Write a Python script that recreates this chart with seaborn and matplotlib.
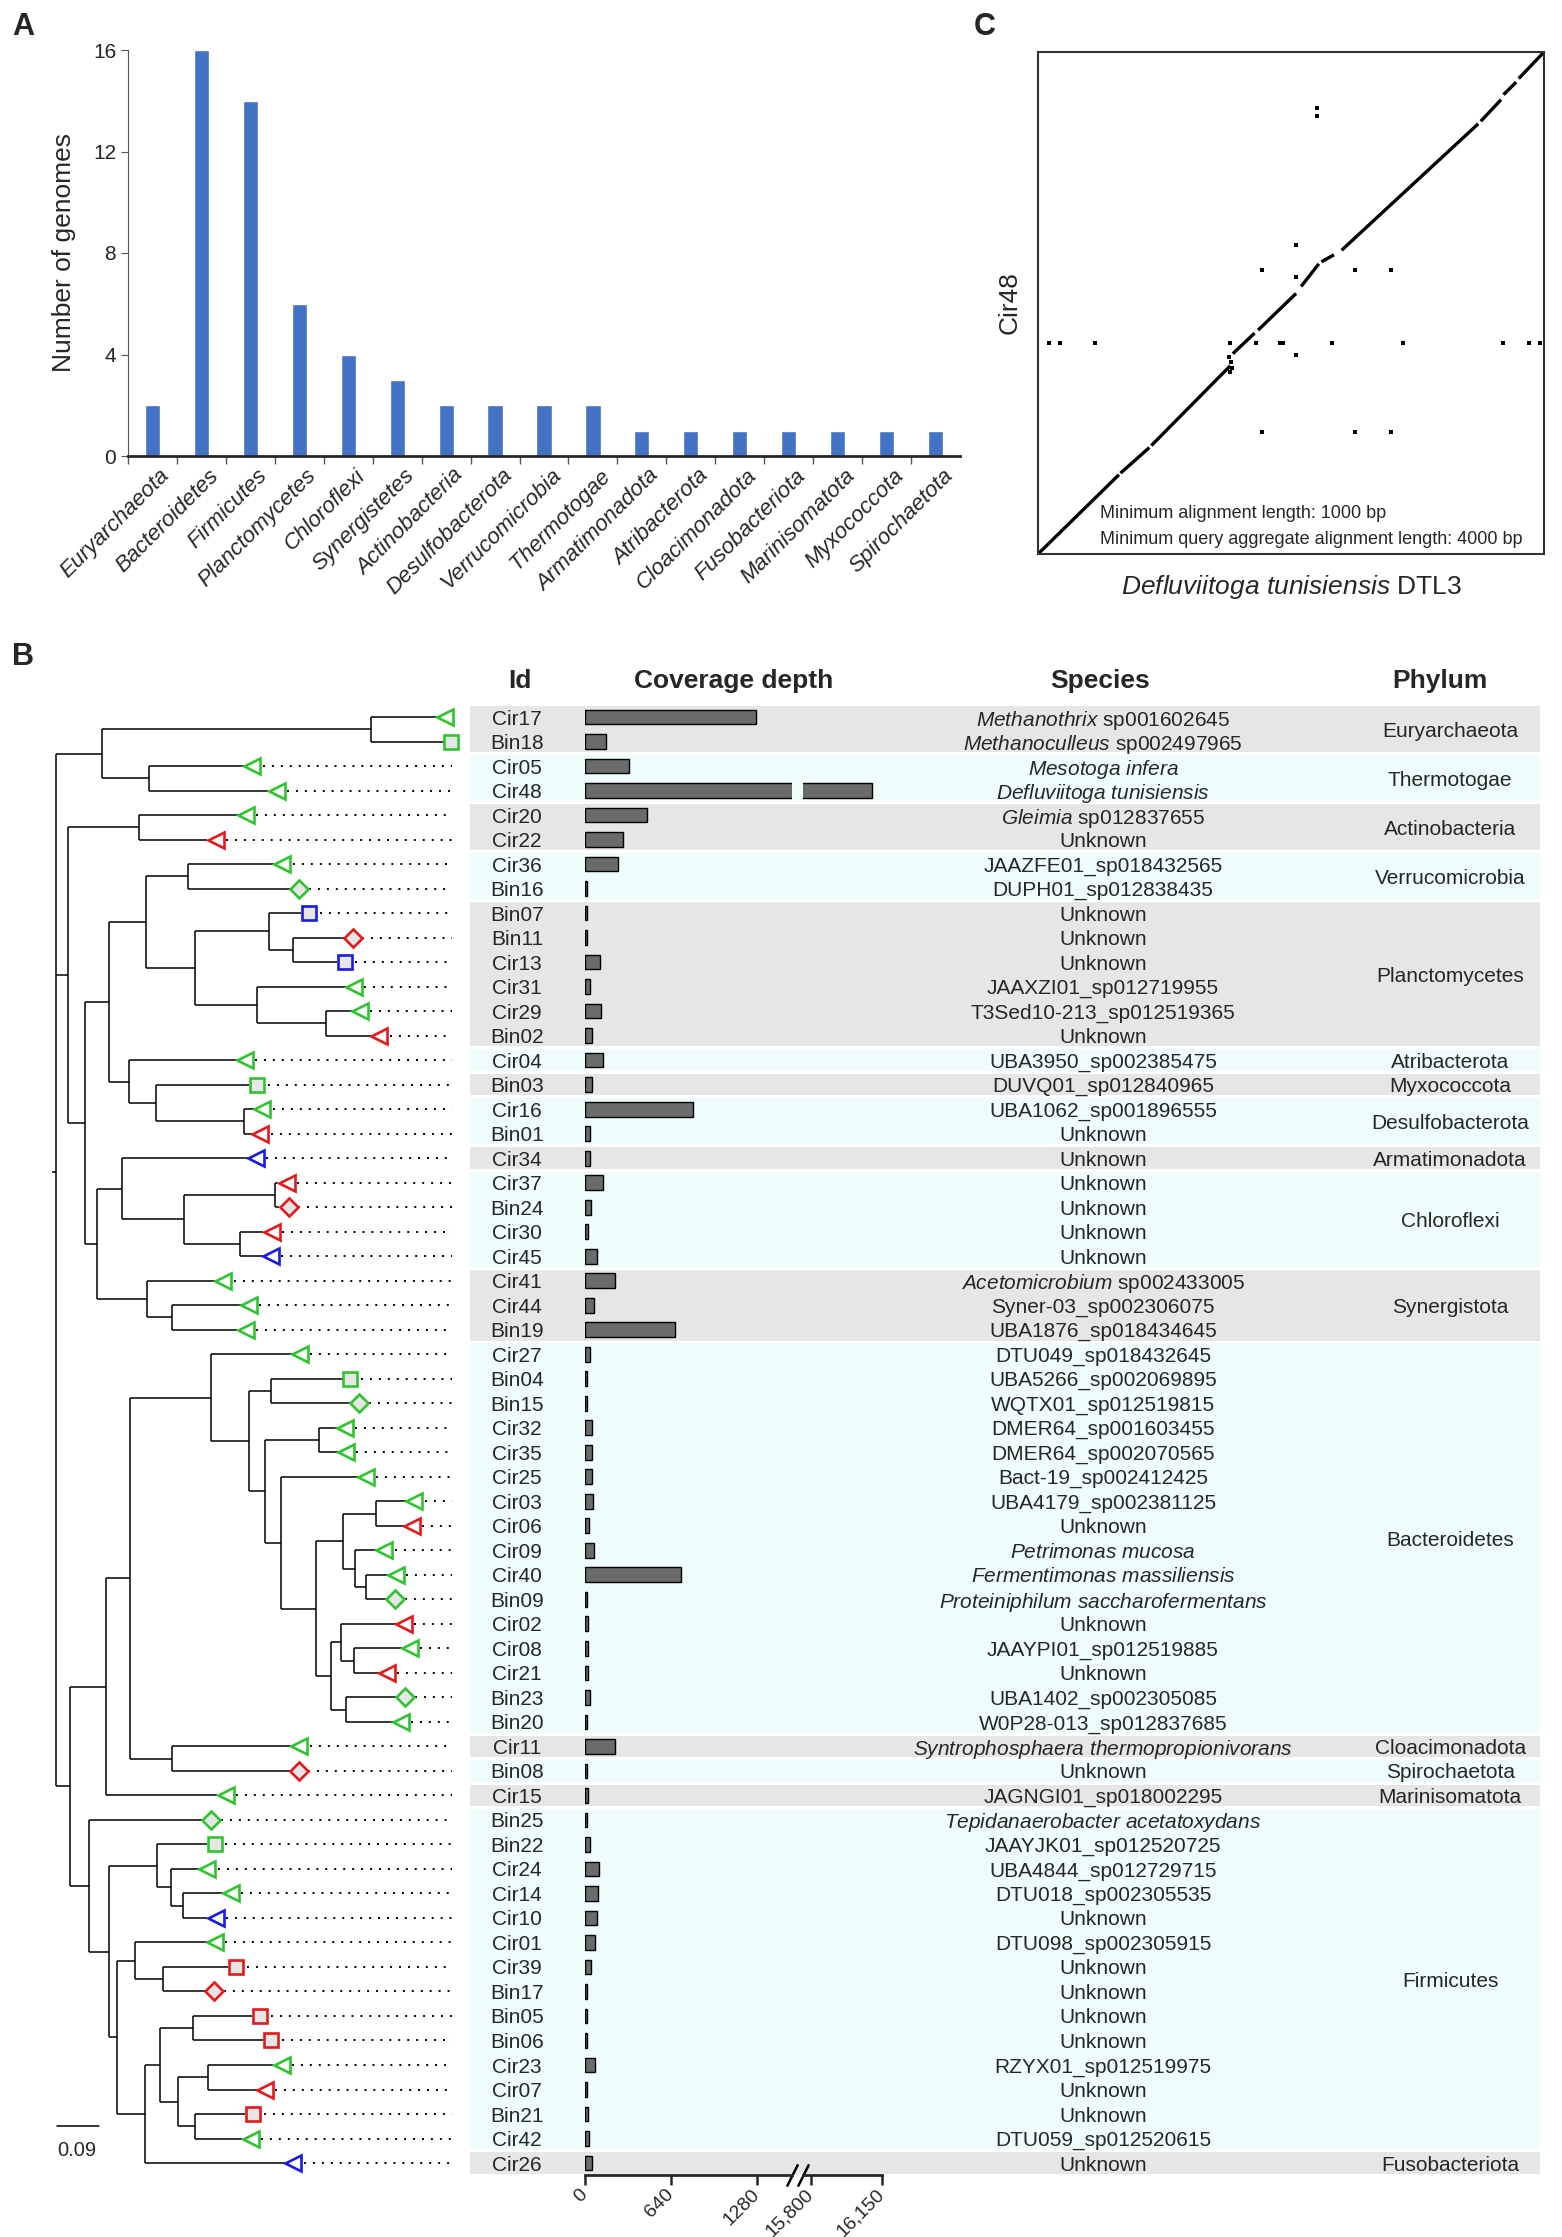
import numpy as np
import pandas as pd
import matplotlib
matplotlib.use("Agg")
import matplotlib.pyplot as plt
import seaborn as sns
from matplotlib.collections import LineCollection
from matplotlib.transforms import offset_copy, ScaledTranslation

sns.set_style("ticks")
plt.rcParams['font.family'] = ['Liberation Sans', 'DejaVu Sans']
plt.rcParams['mathtext.fontset'] = 'custom'
plt.rcParams['mathtext.rm'] = 'Liberation Sans'
plt.rcParams['mathtext.it'] = 'Liberation Sans:italic'

# ---------------- data ----------------
# panel A
phyla_a = ['Euryarchaeota', 'Bacteroidetes', 'Firmicutes', 'Planctomycetes', 'Chloroflexi',
           'Synergistetes', 'Actinobacteria', 'Desulfobacterota', 'Verrucomicrobia', 'Thermotogae',
           'Armatimonadota', 'Atribacterota', 'Cloacimonadota', 'Fusobacteriota', 'Marinisomatota',
           'Myxococcota', 'Spirochaetota']
genome_counts = [2, 16, 14, 6, 4, 3, 2, 2, 2, 2, 1, 1, 1, 1, 1, 1, 1]

# panel B
tree_newick = """(((Cir17:0.1418,Bin18:0.1562):0.5818,(Cir05:0.2052,Cir48:0.2577):0.1023):0.0986,
((Cir20:0.2124,Cir22:0.1469):0.1548,
((((Cir36:0.1865,Bin16:0.221):0.0893,((Bin07:0.0684,(Bin11:0.1087,Cir13:0.0943):0.0511):0.1606,
(Cir31:0.1916,(Cir29:0.0554,Bin02:0.0972):0.1498):0.1332):0.1051):0.0813,
(Cir04:0.2332,(Bin03:0.2009,(Cir16:0.0209,Bin01:0.0166):0.1901):0.0597):0.0432):0.0512,
((Cir34:0.2707,((Cir37:0.0072,Bin24:0.0094):0.1958,(Cir30:0.0504,Cir45:0.049):0.1202):0.1339):0.0555,
(Cir41:0.1476,(Cir44:0.1476,Bin19:0.1404):0.0555):0.108):0.0252):0.0374):0.0252,
((((Cir27:0.1749,((Bin04:0.1548,Bin15:0.1713):0.0461,((Cir32:0.0388,Cir35:0.0403):0.116,
(Cir25:0.1649,(((Cir03:0.0662,Cir06:0.0604):0.0706,(Cir09:0.0461,(Cir40:0.0468,Bin09:0.0432):0.0245):0.0259):0.0583,
((Cir02:0.1188,(Cir08:0.1036,Cir21:0.0532):0.0281):0.0209,(Bin23:0.1087,Bin20:0.1015):0.0317):0.0331):0.0749):0.0346):0.0338):0.0835):0.1743,
(Cir11:0.2578,Bin08:0.2542):0.09):0.0518,Cir15:0.2405):0.0778,
(Bin25:0.2434,((Bin22:0.1065,(Cir24:0.0612,(Cir14:0.0857,Cir10:0.0526):0.0259):0.0295):0.1051,
((Cir01:0.1555,(Cir39:0.1404,Bin17:0.0907):0.0612):0.0374,
(((Bin05:0.1289,Bin06:0.1526):0.0713,((Cir23:0.1404,Cir07:0.1044):0.0648,(Bin21:0.108,Cir42:0.1015):0.0368):0.0403):0.0324,
Cir26:0.3031):0.059):0.0187):0.0418):0.0418):0.0302);"""

genome_ids = ['Cir17', 'Bin18', 'Cir05', 'Cir48', 'Cir20', 'Cir22', 'Cir36', 'Bin16', 'Bin07', 'Bin11',
              'Cir13', 'Cir31', 'Cir29', 'Bin02', 'Cir04', 'Bin03', 'Cir16', 'Bin01', 'Cir34', 'Cir37',
              'Bin24', 'Cir30', 'Cir45', 'Cir41', 'Cir44', 'Bin19', 'Cir27', 'Bin04', 'Bin15', 'Cir32',
              'Cir35', 'Cir25', 'Cir03', 'Cir06', 'Cir09', 'Cir40', 'Bin09', 'Cir02', 'Cir08', 'Cir21',
              'Bin23', 'Bin20', 'Cir11', 'Bin08', 'Cir15', 'Bin25', 'Bin22', 'Cir24', 'Cir14', 'Cir10',
              'Cir01', 'Cir39', 'Bin17', 'Bin05', 'Bin06', 'Cir23', 'Cir07', 'Bin21', 'Cir42', 'Cir26']

coverage_depth = [1270, 156, 327, 16100, 460, 282, 246, 15, 15, 15,
                  115, 37, 120, 52, 131, 52, 800, 37, 37, 131,
                  45, 26, 88, 225, 68, 669, 37, 15, 12, 52,
                  52, 52, 63, 30, 68, 716, 15, 20, 20, 20,
                  37, 15, 225, 12, 20, 15, 37, 105, 94, 88,
                  78, 42, 12, 12, 12, 73, 15, 20, 30, 52]

tip_shape = ['tri', 'sq', 'tri', 'tri', 'tri', 'tri', 'tri', 'dia', 'sq', 'dia',
             'sq', 'tri', 'tri', 'tri', 'tri', 'sq', 'tri', 'tri', 'tri', 'tri',
             'dia', 'tri', 'tri', 'tri', 'tri', 'tri', 'tri', 'sq', 'dia', 'tri',
             'tri', 'tri', 'tri', 'tri', 'tri', 'tri', 'dia', 'tri', 'tri', 'tri',
             'dia', 'tri', 'tri', 'dia', 'tri', 'dia', 'sq', 'tri', 'tri', 'tri',
             'tri', 'sq', 'dia', 'sq', 'sq', 'tri', 'tri', 'sq', 'tri', 'tri']

tip_quality = ['g', 'g', 'g', 'g', 'g', 'r', 'g', 'g', 'b', 'r',
               'b', 'g', 'g', 'r', 'g', 'g', 'g', 'r', 'b', 'r',
               'r', 'r', 'b', 'g', 'g', 'g', 'g', 'g', 'g', 'g',
               'g', 'g', 'g', 'r', 'g', 'g', 'g', 'r', 'g', 'r',
               'g', 'g', 'g', 'r', 'g', 'g', 'g', 'g', 'g', 'b',
               'g', 'r', 'r', 'r', 'r', 'g', 'r', 'r', 'g', 'b']

species = [r'$\mathit{Methanothrix}$ sp001602645', r'$\mathit{Methanoculleus}$ sp002497965',
           r'$\mathit{Mesotoga\ infera}$', r'$\mathit{Defluviitoga\ tunisiensis}$',
           r'$\mathit{Gleimia}$ sp012837655', 'Unknown',
           'JAAZFE01_sp018432565', 'DUPH01_sp012838435', 'Unknown', 'Unknown', 'Unknown',
           'JAAXZI01_sp012719955', 'T3Sed10-213_sp012519365', 'Unknown',
           'UBA3950_sp002385475', 'DUVQ01_sp012840965', 'UBA1062_sp001896555', 'Unknown',
           'Unknown', 'Unknown', 'Unknown', 'Unknown', 'Unknown',
           r'$\mathit{Acetomicrobium}$ sp002433005', 'Syner-03_sp002306075', 'UBA1876_sp018434645',
           'DTU049_sp018432645', 'UBA5266_sp002069895', 'WQTX01_sp012519815', 'DMER64_sp001603455',
           'DMER64_sp002070565', 'Bact-19_sp002412425', 'UBA4179_sp002381125', 'Unknown',
           r'$\mathit{Petrimonas\ mucosa}$', r'$\mathit{Fermentimonas\ massiliensis}$',
           r'$\mathit{Proteiniphilum\ saccharofermentans}$', 'Unknown', 'JAAYPI01_sp012519885',
           'Unknown', 'UBA1402_sp002305085', 'W0P28-013_sp012837685',
           r'$\mathit{Syntrophosphaera\ thermopropionivorans}$', 'Unknown', 'JAGNGI01_sp018002295',
           r'$\mathit{Tepidanaerobacter\ acetatoxydans}$', 'JAAYJK01_sp012520725',
           'UBA4844_sp012729715', 'DTU018_sp002305535', 'Unknown', 'DTU098_sp002305915',
           'Unknown', 'Unknown', 'Unknown', 'Unknown', 'RZYX01_sp012519975', 'Unknown', 'Unknown',
           'DTU059_sp012520615', 'Unknown']

phylum_groups = ['Euryarchaeota', 'Thermotogae', 'Actinobacteria', 'Verrucomicrobia', 'Planctomycetes',
                 'Atribacterota', 'Myxococcota', 'Desulfobacterota', 'Armatimonadota', 'Chloroflexi',
                 'Synergistota', 'Bacteroidetes', 'Cloacimonadota', 'Spirochaetota', 'Marinisomatota',
                 'Firmicutes', 'Fusobacteriota']
phylum_sizes = [2, 2, 2, 2, 6, 1, 1, 2, 1, 4, 3, 16, 1, 1, 1, 14, 1]

# panel C (fractions of the genome length)
seg_ref_start = [0.0, 0.163, 0.224, 0.385, 0.435, 0.52, 0.56, 0.60, 0.875, 0.92, 0.95]
seg_ref_end = [0.16, 0.22, 0.38, 0.428, 0.51, 0.555, 0.585, 0.87, 0.915, 0.945, 1.0]
seg_qry_start = [0.0, 0.161, 0.216, 0.399, 0.446, 0.533, 0.582, 0.605, 0.862, 0.915, 0.947]
seg_qry_end = [0.158, 0.212, 0.375, 0.44, 0.519, 0.578, 0.596, 0.857, 0.905, 0.94, 1.0]

dot_ref = [0.552, 0.552, 0.510, 0.443, 0.627, 0.698, 0.510,
           0.021, 0.043, 0.112, 0.380, 0.430, 0.478, 0.484, 0.581, 0.721, 0.918, 0.970, 0.992,
           0.510, 0.443, 0.627, 0.698, 0.377, 0.381, 0.384, 0.379]
dot_qry = [0.888, 0.872, 0.615, 0.566, 0.566, 0.566, 0.552,
           0.421, 0.421, 0.421, 0.421, 0.421, 0.421, 0.421, 0.421, 0.421, 0.421, 0.421, 0.421,
           0.397, 0.244, 0.244, 0.244, 0.392, 0.382, 0.371, 0.363]

# ---------------- helpers ----------------
W, H = 1562, 2237
fig = plt.figure(figsize=(W / 100, H / 100), dpi=100)


def add_px_axes(left, top, right, bottom):
    return fig.add_axes([left / W, 1 - bottom / H, (right - left) / W, (bottom - top) / H])


def parse_newick(text):
    s = "".join(text.split())
    pos = 0

    def node():
        nonlocal pos
        kids = []
        if s[pos] == '(':
            pos += 1
            while True:
                kids.append(node())
                if s[pos] == ',':
                    pos += 1
                    continue
                pos += 1
                break
        start = pos
        while s[pos] not in ':,);':
            pos += 1
        name = s[start:pos]
        length = 0.0
        if s[pos] == ':':
            pos += 1
            start = pos
            while s[pos] not in ',);':
                pos += 1
            length = float(s[start:pos])
        return {'name': name, 'length': length, 'children': kids}

    return node()


# ---------------- panel A ----------------
ax_a = add_px_axes(128, 50, 960, 456)
sns.barplot(x=phyla_a, y=genome_counts, color='#4472C4', saturation=1, width=0.31, ax=ax_a)
ax_a.set_xlim(-0.5, 16.5)
ax_a.set_ylim(0, 16)
ax_a.set_yticks([0, 4, 8, 12, 16])
ax_a.set_ylabel('Number of genomes', fontsize=19, labelpad=12)
ax_a.set_xlabel('')
sns.despine(ax=ax_a)
ax_a.spines['bottom'].set_linewidth(2)
ax_a.spines['left'].set_color('#555555')
ax_a.tick_params(axis='y', labelsize=15, length=5, color='#555555')
ax_a.set_xticks(np.arange(-0.5, 16, 1), minor=True)
ax_a.tick_params(axis='x', which='minor', length=6, width=1, color='#555555')
ax_a.tick_params(axis='x', which='major', length=0, pad=12)
for lab in ax_a.get_xticklabels():
    lab.set_rotation(45)
    lab.set_ha('right')
    lab.set_va('center')
    lab.set_rotation_mode('anchor')
    lab.set_style('italic')
    lab.set_fontsize(16)
    lab.set_transform(lab.get_transform() + ScaledTranslation(0.14, 0, fig.dpi_scale_trans))

# ---------------- panel B: tree ----------------
top_px, bot_px = 704.75, 2175.3
n_rows = len(genome_ids)
ylim_rows = (n_rows - 0.5, -0.5)
px_per_unit = 463.3

ax_t = add_px_axes(40, top_px, 470, bot_px)
ax_t.set_xlim(-16 / px_per_unit, 414 / px_per_unit)
ax_t.set_ylim(*ylim_rows)
ax_t.axis('off')

tree = parse_newick(tree_newick)
leaves = []


def layout(nd, depth):
    nd['x'] = depth + nd['length']
    if nd['children']:
        for c in nd['children']:
            layout(c, nd['x'])
        nd['y'] = np.mean([c['y'] for c in nd['children']])
    else:
        nd['y'] = len(leaves)
        leaves.append(nd)


layout(tree, 0.0)

segs = []


def collect(nd):
    if not nd['children']:
        return
    ys = [c['y'] for c in nd['children']]
    segs.append([(nd['x'], min(ys)), (nd['x'], max(ys))])
    for c in nd['children']:
        segs.append([(nd['x'], c['y']), (c['x'], c['y'])])
        collect(c)


collect(tree)
segs.append([(tree['x'] - 0.009, tree['y']), (tree['x'], tree['y'])])
ax_t.add_collection(LineCollection(segs, colors='black', linewidths=1.1))

quality_colors = {'g': '#2fc42f', 'r': '#e3191c', 'b': '#1a1ae6'}
shape_style = {'tri': dict(marker='<', ms=11.5, mfc='white', dx=5.8),
               'sq': dict(marker='s', ms=10.5, mfc='#e6e6e6', dx=5.6),
               'dia': dict(marker='D', ms=9.0, mfc='#e6e6e6', dx=6.6)}
dot_end = 0.855
for lf, shp, q in zip(leaves, tip_shape, tip_quality):
    st = shape_style[shp]
    tr = offset_copy(ax_t.transData, fig=fig, x=st['dx'], y=0, units='points')
    ax_t.plot([lf['x']], [lf['y']], marker=st['marker'], ms=st['ms'], mfc=st['mfc'],
              mec=quality_colors[q], mew=1.9, transform=tr, clip_on=False, zorder=4)
    x0 = lf['x'] + 0.04
    if x0 < dot_end:
        ax_t.plot([x0, dot_end], [lf['y'], lf['y']], color='black', lw=1.4,
                  linestyle=(0, (1, 3.6)), zorder=2)

# scale bar
ax_t.plot([0.002, 0.092], [57.5, 57.5], color='black', lw=1.1)
ax_t.text(0.002, 58.5, '0.09', fontsize=14.5, ha='left', va='center')

# ---------------- panel B: table ----------------
ax_tab = add_px_axes(470, top_px, 1540, bot_px)
ax_tab.set_xlim(0, 1)
ax_tab.set_ylim(*ylim_rows)
ax_tab.axis('off')
band_colors = ['#e6e6e6', '#effcfc']
row0 = 0
for i, (name, size) in enumerate(zip(phylum_groups, phylum_sizes)):
    first, last = row0, row0 + size - 1
    ax_tab.axhspan(first - 0.5 + 0.06, last + 0.5 - 0.06, color=band_colors[i % 2], lw=0, zorder=0)
    ax_tab.text(0.916, (first + last) / 2, name, fontsize=15, ha='center', va='center_baseline',
                transform=ax_tab.get_yaxis_transform())
    row0 += size

ytr = ax_tab.get_yaxis_transform()
for r, (gid, sp) in enumerate(zip(genome_ids, species)):
    ax_tab.text(0.044, r, gid, fontsize=15, ha='center', va='center_baseline', transform=ytr)
    ax_tab.text(0.5916, r, sp, fontsize=15, ha='center', va='center_baseline', transform=ytr)

for label, xc in [('Id', 0.0467), ('Coverage depth', 0.2467), ('Species', 0.589), ('Phylum', 0.9065)]:
    ax_tab.text(xc, -1.47, label, fontsize=19, fontweight='bold', ha='center', va='center',
                transform=ytr, clip_on=False)

# coverage bars on a broken axis
cov_df = pd.DataFrame({'id': genome_ids, 'depth': coverage_depth})
ax_lo = add_px_axes(585, top_px, 792, bot_px)
ax_hi = add_px_axes(803, top_px, 882, bot_px)
for ax, lim, ticks, labels in [(ax_lo, (0, 1540), [0, 640, 1280], ['0', '640', '1280']),
                               (ax_hi, (15760, 16150), [15800, 16150], ['15,800', '16,150'])]:
    sns.barplot(data=cov_df, x='depth', y='id', order=genome_ids, orient='h', color='#6b6b6b',
                saturation=1, edgecolor='black', linewidth=1.0, width=0.6, errorbar=None, ax=ax)
    ax.set_facecolor('none')
    ax.set_xlim(*lim)
    ax.set_ylim(*ylim_rows)
    ax.set_yticks([])
    ax.set_xlabel('')
    ax.set_ylabel('')
    for side in ['top', 'right', 'left']:
        ax.spines[side].set_visible(False)
    ax.spines['bottom'].set_linewidth(2)
    ax.set_xticks(ticks)
    ax.set_xticklabels(labels)
    ax.tick_params(axis='x', length=7, width=1.8, labelsize=14, pad=5)
    for lab in ax.get_xticklabels():
        lab.set_rotation(45)
        lab.set_ha('right')
        lab.set_va('center')
        lab.set_rotation_mode('anchor')

brk = dict(marker=[(-0.5, -1), (0.5, 1)], markersize=16, linestyle='none', color='black',
           mec='black', mew=1.8, clip_on=False)
ax_lo.plot([1], [0], transform=ax_lo.transAxes, **brk)
ax_hi.plot([0], [0], transform=ax_hi.transAxes, **brk)

# ---------------- panel C ----------------
ax_c = add_px_axes(1038, 52, 1544, 554)
for rs, re, qs, qe in zip(seg_ref_start, seg_ref_end, seg_qry_start, seg_qry_end):
    ax_c.plot([rs, re], [qs, qe], color='black', lw=2.4, solid_capstyle='butt')
sns.scatterplot(x=dot_ref, y=dot_qry, color='black', marker='s', s=7, linewidth=0, ax=ax_c)
ax_c.set_xlim(0, 1)
ax_c.set_ylim(0, 1)
ax_c.set_xticks([])
ax_c.set_yticks([])
for sp in ax_c.spines.values():
    sp.set_visible(True)
    sp.set_color('#333333')
    sp.set_linewidth(1.5)
ax_c.set_ylabel('Cir48', fontsize=19, labelpad=12)
ax_c.set_xlabel(r'$\mathit{Defluviitoga\ tunisiensis}$ DTL3', fontsize=19, labelpad=14)
ax_c.text(0.123, 0.08, 'Minimum alignment length: 1000 bp', fontsize=13,
          transform=ax_c.transAxes, va='center')
ax_c.text(0.123, 0.028, 'Minimum query aggregate alignment length: 4000 bp', fontsize=13,
          transform=ax_c.transAxes, va='center')

# panel letters
for letter, x, y in [('A', 23, 27), ('B', 23, 657), ('C', 985, 27)]:
    fig.text(x / W, 1 - y / H, letter, fontsize=22, fontweight='bold', ha='center', va='center')

fig.savefig('out.png', dpi=100)
